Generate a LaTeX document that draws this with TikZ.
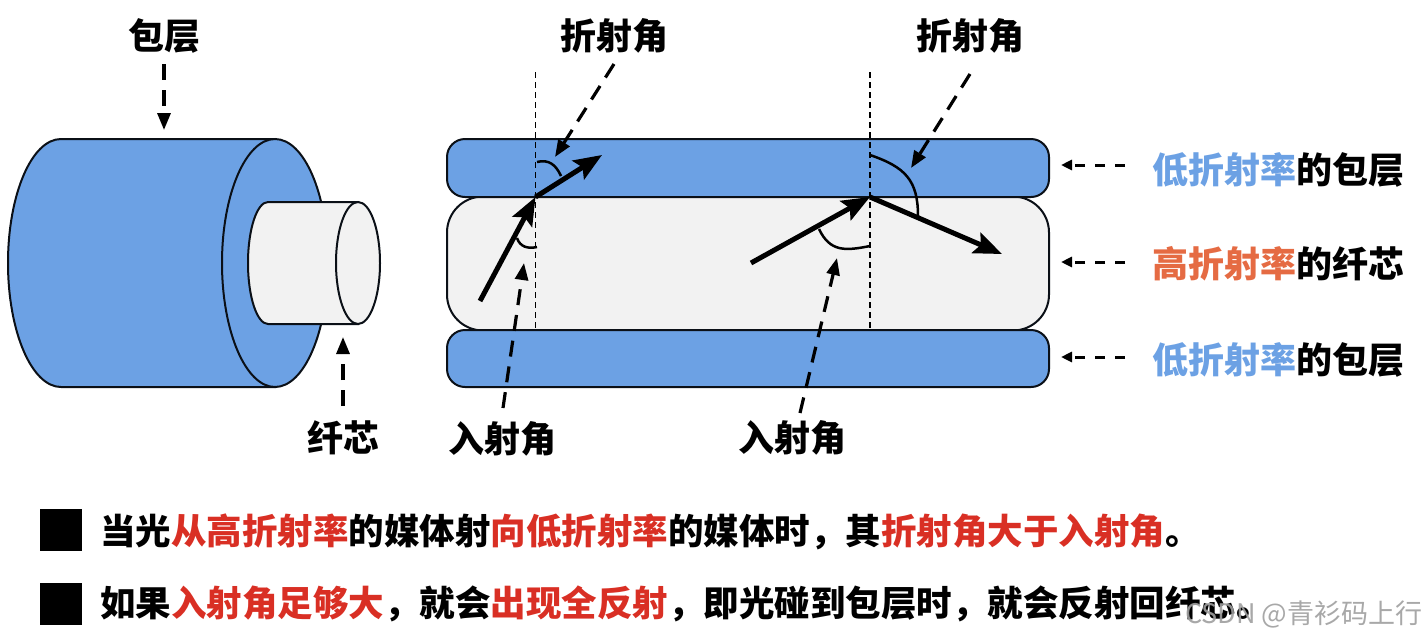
\documentclass[tikz,border=0pt]{standalone}
\usepackage{fontspec}
\setmainfont{Noto Sans CJK SC}
\usetikzlibrary{arrows.meta}
\definecolor{cladblue}{HTML}{6CA1E4}
\definecolor{coregray}{HTML}{F2F2F2}
\definecolor{lblblue}{HTML}{6CA1E4}
\definecolor{lblorange}{HTML}{E56B43}
\definecolor{lblred}{HTML}{D92F24}
\newcommand{\lbl}{\fontsize{36}{40}\selectfont\bfseries}
\newcommand{\lblb}{\fontsize{35.5}{40}\selectfont\bfseries}
\newcommand{\rr}[1]{\textcolor{lblred}{#1}}
\tikzset{
  outline/.style={draw=black!90!cladblue,line width=2pt},
  clad/.style={outline,fill=cladblue},
  corefill/.style={outline,fill=coregray},
  normalline/.style={draw=black,line width=1.8pt,dash pattern=on 6pt off 4pt},
  ray/.style={draw=black,line width=5pt,-{Stealth[length=28pt,width=22pt,inset=5pt]}},
  anglearc/.style={draw=black,line width=2.5pt},
  pointer/.style={draw=black,line width=3.2pt,dash pattern=on 16pt off 10pt,-{Triangle[length=17pt,width=13pt]}},
  shortpointer/.style={draw=black,line width=3pt,dash pattern=on 10pt off 10pt,-{Triangle[length=11pt,width=10pt]}},
  txt/.style={inner sep=0pt,font=\lbl},
  sqmark/.style={fill=black,draw=none,minimum size=42pt,inner sep=0pt},
  mark text/.style={inner sep=0pt,font=\lblb,anchor=west},
}
\begin{document}
\begin{tikzpicture}[x=1pt,y=-1pt]
\useasboundingbox (0,0) rectangle (1427,641);
% left cylinder
\path[clad] (61,139) -- (275,139) -- (275,387) -- (61,387) arc[start angle=270,end angle=90,x radius=53pt,y radius=124pt] -- cycle;
\draw[clad] (275,263) ellipse [x radius=53pt,y radius=124pt];
\path[corefill] (268,202) -- (358,202) -- (358,324) -- (268,324) arc[start angle=270,end angle=90,x radius=20pt,y radius=61pt] -- cycle;
\draw[corefill] (358,263) ellipse [x radius=22pt,y radius=61pt];
% right section
\node[corefill,rounded corners=36pt,minimum width=602pt,minimum height=134pt,inner sep=0pt] (core) at (748,263.5) {};
\node[clad,rounded corners=18pt,minimum width=602pt,minimum height=58pt,inner sep=0pt] (cladtop) at (748,168) {};
\node[clad,rounded corners=18pt,minimum width=602pt,minimum height=57pt,inner sep=0pt] (cladbot) at (748,358.5) {};
% normals
\coordinate (n1t) at (535.5,72); \coordinate (n1b) at (535.5,330);
\coordinate (n2t) at (870,72); \coordinate (n2b) at (870,330);
\draw[normalline] (n1t) -- (n1b);
\draw[normalline] (n2t) -- (n2b);
% rays
\coordinate (h1) at (535.5,197); \coordinate (h2) at (870,197);
\coordinate (r1s) at (480,301); \coordinate (r1e) at (602,155);
\coordinate (r2s) at (751,263); \coordinate (r2e) at (1002,254);
\draw[ray] (r1s) -- (h1);
\draw[ray] (h1) -- (r1e);
\draw[ray] (r2s) -- (h2);
\draw[ray] (h2) -- (r2e);
% angle arcs
\draw[anglearc] (537,162) .. controls (549,159) and (556,165) .. (561,176);
\draw[anglearc] (537,247) .. controls (528,249) and (520,247) .. (517,238);
\draw[anglearc] (870,155) .. controls (905,167) and (918,180) .. (918,216);
\draw[anglearc] (870,246) .. controls (845,251) and (830,252) .. (819,229);
% labels
\node[txt] (l1) at (164,36) {包层};
\node[txt] (l2) at (343,438) {纤芯};
\node[txt] (l3) at (614,36) {折射角};
\node[txt] (l4) at (970,36) {折射角};
\node[txt] (l5) at (502,439) {入射角};
\node[txt] (l6) at (792,438) {入射角};
\node[txt,anchor=west] (l7) at (1152,170) {\textcolor{lblblue}{低折射率}的包层};
\node[txt,anchor=west] (l8) at (1152,264) {\textcolor{lblorange}{高折射率}的纤芯};
\node[txt,anchor=west] (l9) at (1152,360) {\textcolor{lblblue}{低折射率}的包层};
% pointers
\coordinate (p1s) at (164,64); \coordinate (p1e) at (164,130);
\coordinate (p2s) at (343,406); \coordinate (p2e) at (343,337);
\coordinate (p3s) at (614,64); \coordinate (p3e) at (555,157);
\coordinate (p4s) at (970,74); \coordinate (p4e) at (911,168);
\coordinate (p5s) at (503,408); \coordinate (p5e) at (524,263);
\coordinate (p6s) at (800,413); \coordinate (p6e) at (837,258);
\draw[pointer] (p1s) -- (p1e);
\draw[pointer] (p2s) -- (p2e);
\draw[pointer] (p3s) -- (p3e);
\draw[pointer] (p4s) -- (p4e);
\draw[pointer] (p5s) -- (p5e);
\draw[pointer] (p6s) -- (p6e);
\coordinate (q1s) at (1125,165); \coordinate (q1e) at (1061,165);
\coordinate (q2s) at (1125,262); \coordinate (q2e) at (1061,262);
\coordinate (q3s) at (1125,357); \coordinate (q3e) at (1061,357);
\draw[shortpointer] (q1s) -- (q1e);
\draw[shortpointer] (q2s) -- (q2e);
\draw[shortpointer] (q3s) -- (q3e);
% bottom text
\node[sqmark] (b1) at (61,530) {};
\node[sqmark] (b2) at (61,604) {};
\node[mark text] (t1) at (100,532) {当光\rr{从高折射率}的媒体射\rr{向低折射率}的媒体时，其\rr{折射角大于入射角}。};
\node[mark text] (t2) at (100,604) {如果\rr{入射角足够大}，就会\rr{出现全反射}，即光碰到包层时，就会反射回纤芯。};
\node[anchor=west,inner sep=0pt,text=gray!75,opacity=.9,font=\fontsize{27}{30}\selectfont] (wm) at (1185,614) {CSDN @青衫码上行};
\end{tikzpicture}
\end{document}
